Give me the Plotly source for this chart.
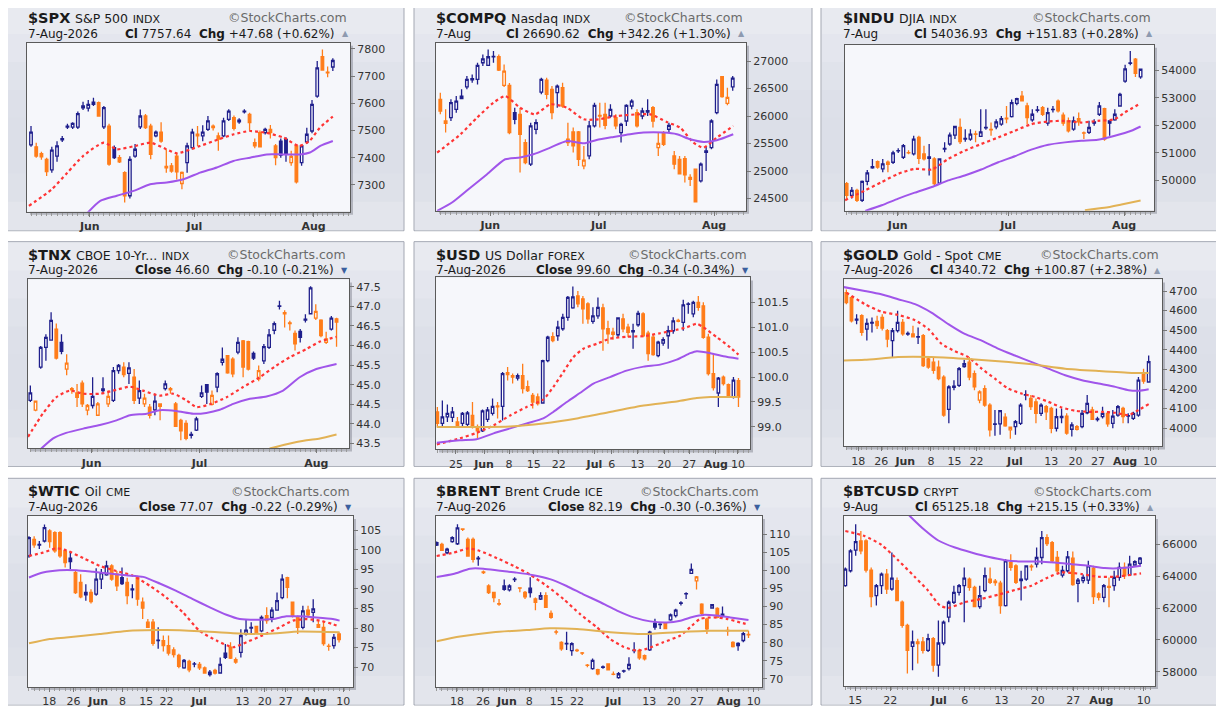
import plotly.graph_objects as go

# the page body adds an 8px margin, so the figure is 16px smaller than the window
W, H = 1208, 700
OFF = 8
NAVY = "#1f1f8c"
ORANGE = "#ff7d1a"
RED_MA = "#ff3434"
PURPLE_MA = "#a055ea"
GOLD_MA = "#e2b255"
PLOT_BG = "#f6f7fb"
FONT = "DejaVu Sans"
# vertical gradient of the panel frame, top to bottom
PANEL_BANDS = ["#e8eaf0", "#e4e6ee", "#e0e3eb", "#dde0e9", "#dcdfe8", "#dcdfe8", "#dee1e9", "#e3e5ec"]

# ---- candles (open, high, low, close) ----
SPX = [
    (7447, 7516, 7440, 7494), (7440, 7455, 7400, 7406), (7415, 7422, 7392, 7403),
    (7394, 7400, 7333, 7349), (7355, 7440, 7345, 7428), (7406, 7460, 7385, 7443),
    (7465, 7480, 7458, 7470), (7512, 7525, 7505, 7516), (7512, 7530, 7505, 7526),
    (7512, 7570, 7505, 7562), (7583, 7605, 7575, 7590), (7582, 7612, 7570, 7596),
    (7596, 7620, 7590, 7604), (7602, 7606, 7550, 7553), (7513, 7590, 7505, 7584),
    (7516, 7525, 7370, 7376), (7437, 7445, 7395, 7400), (7400, 7410, 7380, 7385),
    (7345, 7350, 7235, 7260), (7260, 7405, 7250, 7394), (7406, 7450, 7400, 7431),
    (7513, 7577, 7505, 7553), (7553, 7560, 7505, 7510), (7516, 7525, 7394, 7412),
    (7480, 7500, 7475, 7494), (7494, 7530, 7455, 7461), (7368, 7431, 7345, 7363),
    (7370, 7380, 7345, 7351), (7406, 7419, 7320, 7348), (7305, 7349, 7284, 7346),
    (7382, 7455, 7345, 7443), (7437, 7506, 7430, 7494), (7486, 7516, 7443, 7480),
    (7480, 7519, 7460, 7494), (7504, 7553, 7498, 7535), (7516, 7522, 7500, 7510),
    (7480, 7492, 7425, 7468), (7480, 7547, 7475, 7535), (7541, 7578, 7535, 7571),
    (7547, 7555, 7500, 7508), (7532, 7545, 7525, 7538), (7568, 7578, 7562, 7571),
    (7559, 7565, 7500, 7529), (7455, 7470, 7435, 7443), (7492, 7500, 7438, 7440),
    (7492, 7510, 7485, 7504), (7504, 7520, 7470, 7492), (7443, 7450, 7372, 7400),
    (7461, 7470, 7400, 7409), (7467, 7475, 7385, 7412), (7382, 7425, 7370, 7405),
    (7443, 7450, 7305, 7311), (7382, 7445, 7370, 7443), (7458, 7510, 7450, 7486),
    (7498, 7612, 7490, 7596), (7626, 7755, 7620, 7730), (7771, 7797, 7720, 7722),
    (7714, 7735, 7695, 7712), (7733, 7765, 7718, 7757),
]
COMPQ = [
    (26304, 26425, 26031, 26092), (25910, 26122, 25699, 25867), (25971, 26304, 25910, 26243),
    (26122, 26364, 26062, 26273), (26364, 26486, 26304, 26320), (26530, 26728, 26486, 26667),
    (26660, 26758, 26607, 26680), (26667, 26970, 26576, 26921), (26970, 27121, 26909, 27040),
    (26921, 27212, 26909, 27079), (27079, 27182, 26970, 27085), (27079, 27121, 26818, 26837),
    (26558, 26940, 26530, 26818), (26558, 26600, 25669, 25699), (26062, 26153, 25850, 25941),
    (26031, 26153, 24972, 25669), (25517, 25578, 25124, 25154), (25124, 25880, 25093, 25820),
    (25759, 25941, 25669, 25880), (26437, 26697, 26395, 26667), (26655, 26697, 26304, 26395),
    (26486, 26546, 25941, 26062), (26425, 26576, 26153, 26546), (26516, 26607, 26153, 26183),
    (25578, 25880, 25457, 25517), (25711, 25790, 25335, 25457), (25711, 25730, 25093, 25214),
    (25093, 25457, 25033, 25200), (25275, 25910, 25214, 25820), (25820, 26243, 25790, 26195),
    (26010, 26243, 25790, 26001), (26031, 26243, 25760, 25832), (26001, 26213, 25971, 26122),
    (25971, 26031, 25760, 25820), (25699, 25880, 25517, 25850), (25910, 26213, 25820, 26195),
    (26183, 26304, 26122, 26273), (26062, 26122, 25790, 25820), (26001, 26153, 25941, 26092),
    (26074, 26304, 26001, 26100), (26153, 26183, 25790, 25910), (25426, 25699, 25275, 25505),
    (25699, 25730, 25457, 25487), (25759, 25880, 25699, 25832), (25275, 25366, 25033, 25124),
    (25214, 25275, 24942, 24950), (25226, 25275, 24790, 24930), (24851, 24942, 24730, 24882),
    (25033, 25033, 24428, 24440), (24821, 25154, 24790, 25124), (25340, 25457, 25000, 25366),
    (25426, 25941, 25396, 25910), (26062, 26667, 26031, 26576), (26716, 26728, 26335, 26352),
    (26231, 26516, 26195, 26340), (26530, 26728, 26462, 26690),
]
INDU = [
    (49881, 49941, 49340, 49460), (49460, 49760, 49340, 49640), (49640, 49700, 49220, 49280),
    (49280, 50000, 49220, 49965), (49965, 50380, 49821, 50277), (50460, 50781, 50421, 50500),
    (50685, 50720, 50421, 50481), (50421, 50781, 50301, 50601), (50660, 50720, 50301, 50580),
    (50661, 51082, 50601, 50997), (51070, 51166, 51000, 51082), (50841, 51322, 50781, 51262),
    (51010, 51100, 50950, 50997), (50961, 51622, 50901, 51502), (51562, 51622, 50601, 50800),
    (50961, 51262, 50721, 50781), (50850, 51322, 50181, 50800), (50781, 50841, 49821, 49881),
    (49905, 50800, 49881, 50781), (51140, 51382, 51022, 51166), (51322, 51742, 51262, 51646),
    (51646, 51982, 51502, 51958), (51922, 52247, 51322, 51406), (51500, 51862, 51400, 51526),
    (51502, 51862, 51442, 51682), (51690, 51800, 51382, 51670), (51598, 52583, 51580, 51766),
    (51910, 52583, 51840, 51922), (51850, 52102, 51622, 51838), (51946, 52223, 51862, 52126),
    (52042, 52343, 51982, 52247), (52260, 52703, 52078, 52240), (52319, 52943, 52283, 52823),
    (52799, 53003, 52727, 52967), (53063, 53243, 52883, 52890), (52703, 52823, 52042, 52283),
    (52199, 52583, 52127, 52403), (52545, 52703, 52463, 52559), (52643, 52703, 52343, 52403),
    (52078, 52643, 51982, 52463), (52575, 52703, 52463, 52583), (52883, 52943, 52463, 52523),
    (52367, 52463, 51982, 52078), (52163, 52283, 51742, 51802), (51862, 52319, 51802, 52163),
    (52247, 52463, 51982, 52126), (51730, 51780, 51502, 51718), (51742, 52163, 51682, 51922),
    (52126, 52223, 51982, 52078), (52403, 52847, 52343, 52703), (52607, 52643, 51442, 51502),
    (52163, 52163, 51622, 52078), (52199, 52583, 52163, 52403), (52703, 53183, 52679, 53123),
    (53604, 54204, 53544, 54048), (54250, 54700, 54180, 54264), (54408, 54444, 53760, 53885),
    (53760, 54048, 53688, 54037),
]
TNX = [
    (44.60, 44.98, 44.56, 44.79), (44.35, 44.60, 44.32, 44.58), (45.45, 45.99, 45.41, 45.95),
    (45.95, 46.29, 45.61, 46.21), (46.14, 46.85, 46.12, 46.64), (46.42, 46.56, 45.64, 45.68),
    (46.08, 46.29, 45.78, 45.85), (45.40, 45.78, 45.24, 45.55), (44.90, 44.94, 44.77, 44.87),
    (44.79, 45.02, 44.43, 44.68), (45.04, 45.11, 44.43, 44.51), (44.35, 44.51, 44.22, 44.47),
    (44.47, 45.19, 44.39, 44.70), (44.22, 44.56, 44.20, 44.51), (44.85, 45.19, 44.77, 44.89),
    (44.51, 44.85, 44.43, 44.70), (44.60, 45.45, 44.56, 45.36), (45.36, 45.53, 45.28, 45.49),
    (45.45, 45.57, 45.19, 45.26), (45.29, 45.57, 45.02, 45.43), (45.19, 45.40, 44.51, 44.60),
    (44.66, 45.11, 44.51, 44.85), (44.51, 44.77, 44.43, 44.66), (44.43, 44.51, 44.14, 44.22),
    (44.36, 44.77, 44.22, 44.58), (44.51, 44.51, 44.09, 44.45), (44.90, 45.11, 44.85, 45.02),
    (44.90, 44.94, 44.77, 44.87), (44.51, 44.56, 43.92, 43.94), (44.09, 44.13, 43.58, 43.82),
    (44.01, 44.09, 43.58, 43.63), (43.73, 43.80, 43.63, 43.71), (43.84, 44.18, 43.82, 44.13),
    (44.70, 44.98, 44.66, 44.79), (45.00, 45.02, 44.51, 44.81), (44.50, 44.85, 44.47, 44.73),
    (44.94, 45.32, 44.81, 45.28), (45.57, 45.95, 45.49, 45.65), (45.74, 45.76, 45.28, 45.30),
    (45.65, 45.70, 45.19, 45.28), (45.83, 46.21, 45.78, 46.08), (46.12, 46.14, 45.19, 45.45),
    (46.10, 46.12, 45.36, 45.40), (45.80, 45.85, 45.63, 45.68), (45.15, 45.49, 45.09, 45.36),
    (45.61, 46.04, 45.53, 45.97), (45.95, 46.42, 45.91, 46.27), (46.39, 46.61, 46.29, 46.56),
    (47.00, 47.14, 46.92, 47.01), (46.84, 46.90, 46.46, 46.81), (46.58, 46.63, 46.38, 46.56),
    (46.31, 46.38, 45.87, 46.04), (46.36, 46.42, 46.08, 46.21), (46.65, 46.80, 46.59, 46.67),
    (46.81, 47.51, 46.80, 47.47), (46.70, 47.05, 46.65, 46.87), (46.65, 46.67, 46.21, 46.25),
    (46.08, 46.35, 46.04, 46.17), (46.42, 46.75, 46.38, 46.70), (46.68, 46.71, 45.97, 46.60),
]
USD = [
    (99.30, 99.40, 98.99, 99.07), (99.07, 99.53, 99.00, 99.20), (99.20, 99.45, 99.10, 99.27),
    (99.19, 99.40, 99.10, 99.30), (99.10, 99.20, 98.98, 99.02), (99.07, 99.30, 99.00, 99.27),
    (99.05, 99.32, 98.98, 99.28), (99.23, 99.50, 98.97, 98.99), (99.00, 99.05, 98.75, 98.92),
    (98.92, 99.35, 98.90, 99.32), (99.15, 99.40, 99.10, 99.34), (99.27, 99.57, 99.23, 99.41),
    (99.42, 99.50, 99.17, 99.40), (99.41, 100.10, 99.13, 100.07), (100.09, 100.20, 99.93, 100.05),
    (100.03, 100.07, 99.87, 100.00), (99.98, 100.07, 99.93, 100.03), (100.03, 100.27, 99.67, 99.77),
    (99.81, 99.93, 99.70, 99.73), (99.63, 99.68, 99.37, 99.50), (99.60, 99.67, 99.43, 99.47),
    (99.48, 100.35, 99.47, 100.33), (100.33, 100.83, 100.30, 100.80), (100.81, 100.90, 100.70, 100.73),
    (100.83, 101.13, 100.73, 101.00), (100.97, 101.27, 100.93, 101.20), (101.20, 101.63, 101.13, 101.60),
    (101.39, 101.82, 101.37, 101.61), (101.63, 101.73, 101.40, 101.47), (101.57, 101.63, 101.07, 101.37),
    (101.47, 101.50, 101.07, 101.17), (101.12, 101.40, 101.07, 101.23), (101.23, 101.60, 101.17, 101.40),
    (101.39, 101.47, 100.53, 100.97), (100.97, 101.13, 100.67, 100.87), (100.90, 100.99, 100.75, 100.86),
    (100.85, 101.20, 100.80, 101.19), (101.17, 101.27, 100.90, 100.97), (101.00, 101.07, 100.80, 100.90),
    (100.91, 101.07, 100.57, 100.93), (101.05, 101.33, 101.01, 101.28), (101.27, 101.30, 100.80, 100.83),
    (100.88, 100.93, 100.33, 100.47), (100.80, 100.87, 100.43, 100.45), (100.43, 100.73, 100.40, 100.70),
    (100.68, 100.80, 100.63, 100.75), (100.83, 101.03, 100.57, 100.93), (100.93, 101.20, 100.87, 101.13),
    (101.14, 101.17, 101.10, 101.12), (101.10, 101.55, 100.93, 101.45), (101.46, 101.50, 101.27, 101.47),
    (101.27, 101.53, 101.20, 101.50), (101.50, 101.63, 101.33, 101.40), (101.43, 101.50, 100.77, 100.80),
    (100.80, 100.87, 100.03, 100.07), (100.07, 100.47, 99.73, 99.79), (99.68, 100.00, 99.40, 99.98),
    (100.00, 100.03, 99.83, 99.87), (99.85, 99.87, 99.58, 99.60), (99.60, 100.00, 99.57, 99.94),
    (99.93, 99.98, 99.40, 99.60),
]
GOLD = [
    (4692, 4708, 4633, 4641), (4666, 4675, 4540, 4548), (4552, 4582, 4531, 4557),
    (4574, 4582, 4472, 4489), (4506, 4560, 4447, 4535), (4536, 4565, 4489, 4540),
    (4545, 4574, 4506, 4523), (4565, 4582, 4498, 4511), (4498, 4506, 4413, 4455),
    (4447, 4511, 4363, 4498), (4498, 4599, 4489, 4540), (4540, 4557, 4472, 4481),
    (4480, 4494, 4472, 4484), (4481, 4523, 4464, 4466), (4465, 4514, 4430, 4467),
    (4472, 4481, 4312, 4320), (4354, 4360, 4304, 4312), (4337, 4363, 4278, 4295),
    (4312, 4346, 4245, 4253), (4261, 4270, 4059, 4067), (4096, 4219, 4025, 4211),
    (4208, 4245, 4194, 4215), (4219, 4312, 4211, 4304), (4315, 4350, 4308, 4329),
    (4337, 4363, 4245, 4261), (4278, 4295, 4194, 4211), (4143, 4194, 4127, 4186),
    (4202, 4219, 4110, 4118), (4118, 4127, 3958, 3992), (4020, 4093, 3962, 4022),
    (4022, 4093, 3967, 4090), (4056, 4076, 4008, 4012), (3992, 4008, 3947, 4005),
    (4008, 4042, 3967, 4034), (4025, 4127, 4017, 4118), (4172, 4194, 4143, 4169),
    (4152, 4169, 4093, 4110), (4135, 4152, 4025, 4076), (4076, 4127, 4062, 4118),
    (4110, 4118, 4042, 4084), (4101, 4110, 3975, 4000), (4000, 4101, 3983, 4059),
    (4054, 4101, 4025, 4060), (4062, 4076, 3967, 3975), (3995, 4030, 3958, 4017),
    (3995, 4017, 3988, 4008), (4008, 4093, 4000, 4076), (4079, 4169, 4071, 4127),
    (4093, 4110, 4042, 4045), (4044, 4059, 4034, 4048), (4059, 4110, 4050, 4076),
    (4076, 4084, 4008, 4022), (4025, 4093, 4000, 4062), (4067, 4118, 4059, 4110),
    (4101, 4110, 4025, 4059), (4064, 4076, 4025, 4062), (4050, 4084, 4042, 4076),
    (4067, 4262, 4059, 4245), (4278, 4304, 4227, 4240), (4236, 4371, 4232, 4340),
]
WTIC = [
    (98.46, 103.5, 98.0, 103.13), (102.7, 103.5, 100.58, 101.3), (101.2, 102.3, 100.2, 101.4),
    (102.28, 106.5, 101.86, 105.68), (104.83, 105.25, 100.58, 102.11), (104.4, 104.8, 99.3, 99.73),
    (104.4, 104.8, 98.0, 98.46), (99.73, 99.9, 95.5, 96.76), (97.86, 99.7, 95.1, 97.0),
    (94.2, 94.6, 88.7, 89.1), (91.67, 93.8, 87.6, 88.01), (88.5, 91.2, 86.99, 89.1),
    (89.1, 89.9, 86.3, 86.8), (88.69, 95.3, 88.3, 92.51), (92.5, 95.1, 90.0, 94.2),
    (93.6, 97.2, 93.4, 95.9), (95.9, 96.3, 92.1, 92.5), (93.8, 94.6, 89.5, 90.8),
    (92.9, 95.5, 91.0, 91.4), (91.7, 92.9, 86.1, 88.3), (89.8, 91.2, 87.6, 90.0),
    (93.1, 93.4, 85.7, 87.4), (86.6, 87.8, 82.3, 85.1), (81.5, 82.3, 80.0, 80.2),
    (81.5, 82.3, 75.5, 76.1), (76.9, 80.2, 74.7, 76.8), (76.8, 78.1, 74.0, 75.5),
    (75.5, 78.1, 73.0, 73.6), (74.4, 75.1, 72.5, 73.2), (73.0, 73.4, 69.7, 70.2),
    (69.8, 72.1, 69.6, 71.7), (71.5, 71.9, 68.7, 69.3), (70.8, 71.3, 70.0, 70.85),
    (70.7, 71.3, 69.3, 69.8), (69.8, 70.2, 68.3, 68.5), (68.1, 69.3, 67.6, 68.7),
    (69.2, 69.6, 68.1, 68.5), (68.5, 72.5, 68.3, 70.7), (73.6, 75.9, 72.1, 72.5),
    (75.1, 76.4, 72.1, 72.3), (71.9, 72.5, 70.9, 71.3), (73.8, 79.7, 72.5, 78.1),
    (78.5, 82.1, 78.1, 79.5), (80.0, 81.5, 78.5, 80.2), (80.4, 80.6, 78.5, 78.7),
    (79.3, 83.2, 78.9, 82.7), (83.2, 85.3, 81.1, 81.9), (82.7, 85.3, 81.5, 84.6),
    (84.6, 89.1, 84.4, 87.0), (87.8, 93.8, 87.4, 92.5), (92.9, 93.1, 87.6, 90.4),
    (86.6, 86.8, 82.7, 83.2), (82.7, 83.2, 78.5, 80.2), (80.2, 85.7, 79.7, 84.4),
    (84.6, 85.7, 82.7, 83.4), (84.0, 87.4, 81.5, 84.9), (80.9, 81.8, 80.0, 80.2),
    (80.2, 81.9, 75.5, 76.0), (75.4, 76.0, 74.2, 75.3), (75.5, 78.5, 74.7, 77.6),
    (78.5, 78.9, 76.3, 77.07),
]
BRENT = [
    (107.05, 108.0, 106.8, 107.7), (107.2, 107.7, 105.4, 105.6), (104.9, 106.3, 104.5, 105.9),
    (108.0, 109.5, 107.7, 109.1), (107.4, 112.8, 107.05, 111.8), (111.5, 111.7, 110.9, 111.4),
    (108.6, 109.1, 103.8, 104.0), (108.6, 109.1, 102.2, 103.1), (103.4, 104.0, 101.3, 103.2),
    (99.6, 100.0, 99.0, 99.4), (95.7, 96.2, 93.5, 93.9), (93.9, 93.9, 91.2, 92.5),
    (90.8, 92.1, 90.2, 90.7), (95.7, 97.5, 94.4, 94.8), (94.6, 96.2, 94.2, 95.7),
    (97.5, 98.1, 96.8, 97.6), (95.2, 95.3, 94.0, 95.1), (93.9, 94.3, 92.1, 92.7),
    (95.1, 98.1, 92.5, 93.9), (92.1, 92.5, 89.0, 91.2), (92.1, 94.0, 91.8, 93.0),
    (93.0, 94.0, 89.6, 89.8), (88.1, 88.9, 86.6, 87.0), (83.0, 83.6, 82.3, 82.9),
    (80.1, 80.4, 77.8, 78.3), (79.8, 83.0, 78.0, 79.7), (77.8, 80.1, 76.4, 79.75),
    (77.9, 78.3, 77.4, 77.8), (77.2, 77.4, 76.6, 77.1), (73.8, 74.1, 73.2, 73.7),
    (72.8, 75.6, 72.5, 75.1), (72.5, 72.8, 71.0, 71.4), (73.3, 73.7, 72.8, 73.2),
    (74.1, 74.3, 72.3, 72.5), (71.3, 72.0, 71.0, 71.2), (70.3, 71.9, 70.0, 71.4),
    (72.2, 72.5, 71.7, 72.1), (72.8, 76.0, 72.3, 74.0), (77.9, 80.1, 77.1, 77.8),
    (77.8, 78.3, 75.3, 75.8), (76.4, 76.7, 75.1, 75.5), (78.0, 83.3, 77.7, 82.9),
    (85.4, 86.6, 83.6, 84.3), (85.1, 85.4, 83.8, 85.0), (85.4, 85.6, 83.8, 83.9),
    (86.3, 88.1, 86.1, 87.7), (87.5, 89.4, 87.0, 89.0), (91.0, 91.5, 90.3, 90.9),
    (93.6, 94.0, 92.1, 93.5), (99.2, 101.9, 99.0, 100.3), (97.1, 98.5, 94.7, 98.2),
    (90.7, 90.9, 87.4, 88.1), (86.5, 86.9, 82.4, 83.8), (89.6, 90.7, 89.4, 90.5),
    (89.5, 89.8, 86.8, 87.0), (87.9, 90.0, 87.0, 87.3), (83.4, 84.4, 81.9, 83.3),
    (80.1, 80.4, 78.7, 78.9), (79.8, 80.1, 77.8, 79.2), (80.6, 83.0, 80.1, 82.49),
    (82.3, 83.3, 81.3, 82.19),
]
BTC = [
    (63402, 64545, 63340, 64441), (64338, 65690, 64234, 65584), (65626, 67247, 65273, 66166),
    (66208, 66831, 65377, 65584), (66208, 66316, 64234, 64380), (64380, 64545, 62052, 62717),
    (62779, 63506, 62156, 63402), (63402, 64234, 62883, 64130), (64130, 64441, 62883, 63195),
    (63195, 65481, 63091, 63880), (63714, 63922, 62420, 62467), (62364, 62467, 60763, 60909),
    (60909, 61013, 57896, 59350), (59600, 60597, 58104, 59870), (59870, 60078, 58519, 59766),
    (59870, 60182, 59143, 59350), (59350, 60389, 59246, 60078), (60078, 60182, 57999, 58415),
    (58415, 61221, 57688, 59808), (59808, 61221, 59662, 61117), (61428, 62467, 61117, 62364),
    (62364, 63402, 62260, 62987), (62987, 63506, 62779, 63402), (63402, 64545, 61117, 63880),
    (63818, 63922, 63091, 63299), (63299, 63402, 62052, 62094), (62094, 63402, 61948, 62779),
    (63091, 64545, 62987, 64026), (63818, 64545, 63506, 63610), (63680, 63818, 63402, 63600),
    (63560, 63714, 61636, 62156), (62156, 65065, 62094, 64961), (64857, 65377, 64338, 64545),
    (64649, 64753, 63506, 63610), (63714, 64338, 62467, 63818), (63818, 64649, 63714, 64649),
    (64620, 64753, 64338, 64587), (64753, 65792, 64545, 65169), (65169, 66831, 64753, 66416),
    (66416, 66623, 65896, 66042), (66104, 66208, 64857, 64961), (65169, 65584, 64234, 64338),
    (64068, 64649, 63922, 64360), (64338, 65584, 64234, 65210), (65127, 65540, 63402, 63464),
    (63548, 63880, 62364, 63756), (63714, 64100, 63550, 63922), (63756, 64961, 63506, 64649),
    (64504, 64649, 62260, 62717), (62883, 62987, 62467, 62675), (62675, 63506, 62364, 63402),
    (63350, 63922, 62052, 63300), (63402, 64338, 63091, 63922), (63922, 64857, 63714, 64545),
    (64545, 64857, 63818, 64026), (64088, 65273, 64026, 64753), (64700, 65002, 64649, 64910),
    (64800, 65200, 64649, 65125),
]

# ---- moving averages, (candle index, value) ----
SPX_MA20 = [(-0.4, 7223), (4, 7284), (7, 7345), (10, 7406), (14, 7455), (16.5, 7431), (20, 7443),
            (23, 7455), (26, 7431), (28, 7416), (32.5, 7443), (36, 7467), (39, 7486), (42, 7498),
            (45, 7492), (48.5, 7474), (51.5, 7443), (53.5, 7461), (55.5, 7510), (58, 7551)]
SPX_MA50 = [(10.5, 7190), (13.3, 7241), (16.5, 7260), (19.7, 7278), (22.9, 7302), (26.1, 7309),
            (29.3, 7321), (32.5, 7345), (35.7, 7364), (38.9, 7388), (42.1, 7400), (45.3, 7412),
            (48.5, 7412), (51.7, 7412), (53.6, 7419), (55.6, 7443), (58, 7461)]
COMPQ_MA20 = [(-0.6, 25335), (3.8, 25669), (6.9, 25971), (10, 26243), (12.2, 26364), (15, 26153),
              (17.8, 26031), (20.7, 26213), (23.8, 26153), (27, 25941), (29.8, 25941), (33.2, 26001),
              (37, 26031), (39.5, 26031), (42.6, 25892), (45.1, 25790), (47.6, 25517), (49.5, 25426),
              (52, 25608), (55.1, 25820)]
COMPQ_MA50 = [(-0.6, 24276), (2.2, 24428), (5.3, 24670), (8.8, 24942), (12.2, 25214), (15, 25245),
              (17.5, 25305), (20.7, 25426), (23.8, 25548), (27, 25505), (29.4, 25566), (32.6, 25620),
              (35.7, 25669), (38.2, 25699), (42, 25699), (44.5, 25669), (47, 25578), (49.5, 25530),
              (52, 25560), (55.1, 25669)]
INDU_MA20 = [(-0.3, 49280), (3.6, 49640), (6.8, 49941), (10, 50241), (13.2, 50421), (16.5, 50397),
             (19.7, 50781), (22.9, 51082), (26.1, 51322), (29.4, 51562), (32.6, 51802), (35.8, 52042),
             (39, 52139), (42.3, 52163), (45.5, 52102), (48.7, 52163), (52, 52223), (53.9, 52463),
             (57, 52799)]
INDU_MA50 = [(3.6, 48896), (6.8, 49100), (10, 49340), (13.2, 49556), (16.5, 49760), (19.7, 50000),
             (22.9, 50181), (26.1, 50397), (29.4, 50661), (32.6, 50877), (35.8, 51118), (39.1, 51298),
             (42.3, 51382), (45.5, 51442), (48.7, 51478), (52, 51622), (55.2, 51802), (57, 51958)]
INDU_MA200 = [(46.2, 48920), (50, 49004), (53.3, 49124), (57, 49268)]
TNX_MA20 = [(-0.45, 43.67), (2.4, 44.26), (5, 44.68), (7.6, 44.85), (10.2, 44.77), (13.4, 44.77),
            (16.6, 44.87), (19.2, 44.95), (21.7, 44.85), (24.9, 44.72), (27.5, 44.77), (30.1, 44.60),
            (32, 44.43), (34.6, 44.50), (37.8, 44.68), (41, 44.94), (44.2, 45.19), (47.4, 45.49),
            (50, 45.70), (53.2, 45.91), (55.8, 46.10), (59, 46.22)]
TNX_MA50 = [(2.1, 43.37), (4.4, 43.63), (6.9, 43.77), (10.2, 43.88), (13.4, 43.97), (16.6, 44.09),
            (19.2, 44.22), (22.4, 44.26), (24.9, 44.35), (28.1, 44.33), (31.4, 44.26), (33.9, 44.28),
            (36.5, 44.36), (39.1, 44.51), (42.3, 44.64), (45.5, 44.70), (48.7, 44.85), (51.9, 45.19),
            (55.1, 45.40), (59, 45.53)]
TNX_MA200 = [(46.1, 43.37), (49.4, 43.48), (53.2, 43.58), (55.8, 43.63), (59, 43.73)]
USD_MA20 = [(-0.1, 98.65), (4.5, 98.77), (7.8, 98.88), (11.2, 99.03), (14.5, 99.23), (17.8, 99.40),
            (21.1, 99.55), (23.1, 99.80), (25.1, 100.10), (27.1, 100.40), (29.1, 100.57), (31.8, 100.67),
            (34.4, 100.77), (37.7, 100.81), (41, 100.82), (44.4, 100.88), (47.7, 100.95), (49.7, 101.00),
            (51.7, 101.07), (53, 101.00), (55.7, 100.80), (58.3, 100.60), (60, 100.45)]
USD_MA50 = [(-0.1, 98.68), (4.5, 98.73), (7.8, 98.75), (11.2, 98.87), (14.5, 98.97), (17.8, 99.07),
            (21.1, 99.17), (23.1, 99.30), (25.8, 99.50), (28.4, 99.68), (31.1, 99.87), (34.4, 100.00),
            (37.7, 100.13), (41.1, 100.21), (44.4, 100.25), (47.7, 100.35), (50.4, 100.48), (51.7, 100.52),
            (54.4, 100.48), (57, 100.42), (60, 100.37)]
USD_MA200 = [(-0.1, 99.00), (7.8, 99.00), (14.5, 99.01), (21.1, 99.07), (27.8, 99.17), (34.4, 99.30),
             (41.1, 99.43), (47.7, 99.51), (51.7, 99.58), (54.4, 99.60), (60, 99.60)]
GOLD_MA20 = [(0, 4692), (3.6, 4633), (6.8, 4595), (10.1, 4578), (13.4, 4551), (16, 4506), (18.6, 4430),
             (21.2, 4393), (23.8, 4363), (26.4, 4304), (29, 4253), (31.6, 4202), (34.2, 4177), (36.8, 4160),
             (39.4, 4135), (42, 4106), (44.7, 4089), (47.3, 4084), (49.9, 4084), (52.5, 4079), (55.1, 4067),
             (57, 4093), (59, 4123)]
GOLD_MA50 = [(-0.5, 4720), (3.6, 4700), (6.8, 4683), (10.1, 4658), (13.4, 4633), (16.6, 4590),
             (19.9, 4531), (23.1, 4481), (26.4, 4447), (29.7, 4405), (32.9, 4371), (36.2, 4337),
             (39.4, 4304), (42.7, 4270), (46, 4245), (49.2, 4228), (52.5, 4211), (55.1, 4194),
             (57, 4191), (59, 4199)]
GOLD_MA200 = [(-0.5, 4346), (3.6, 4349), (10.1, 4363), (16.6, 4363), (23.1, 4354), (29.7, 4342),
              (36.2, 4326), (42.7, 4304), (49.2, 4292), (55.7, 4282), (59, 4282)]
WTIC_MA20 = [(0, 98.46), (2.7, 99.3), (5.3, 100.4), (7.2, 99.9), (10.5, 97.9), (13.7, 95.9),
             (16.9, 94.6), (20.1, 93.4), (23.4, 90.8), (26.6, 87.8), (29.8, 84.0), (33, 79.3),
             (36.3, 76.8), (39.5, 75.1), (42.1, 76.4), (45.3, 78.2), (48.5, 80.2), (51.1, 81.9),
             (53.7, 82.3), (56.3, 81.9), (58.8, 81.0), (60.1, 80.4)]
WTIC_MA50 = [(0, 92.94), (2.7, 94.2), (5.9, 94.8), (9.2, 94.8), (12.4, 94.4), (15.6, 93.96),
             (18.8, 93.5), (22.1, 93.1), (25.3, 91.4), (28.5, 89.5), (31.7, 87.4), (35, 85.3),
             (38.2, 83.4), (40.8, 82.3), (44, 82.1), (47.2, 82.3), (49.8, 83.0), (52.4, 83.0),
             (55.6, 82.7), (58.8, 82.3), (60.1, 81.9)]
WTIC_MA200 = [(0, 76.1), (4, 77.2), (7.2, 77.6), (13.7, 78.5), (20.1, 79.35), (26.6, 79.5),
              (33, 79.2), (39.5, 78.7), (45.9, 78.5), (52.4, 79.1), (60.1, 78.9)]
BRENT_MA20 = [(0, 104.0), (3.2, 104.9), (6.1, 106.1), (8.3, 105.4), (11.6, 103.4), (14.8, 101.3),
              (18, 98.8), (21.2, 95.7), (24.4, 92.1), (27.6, 87.9), (30.8, 84.3), (33.4, 81.0),
              (35.9, 78.9), (38.5, 77.8), (40.4, 78.3), (43.6, 80.1), (46.9, 82.0), (49.1, 84.7),
              (50.7, 86.6), (53.3, 87.0), (55.8, 86.6), (58.4, 85.6), (60, 85.0)]
BRENT_MA50 = [(0, 98.2), (3.2, 99.0), (6.4, 100.5), (9, 100.5), (12.2, 99.9), (15.4, 99.4),
              (18.6, 98.7), (21.8, 97.6), (25, 95.7), (28.2, 93.4), (31.5, 91.2), (34.7, 88.9),
              (37.9, 87.0), (41.1, 85.9), (44.3, 85.6), (46.9, 86.1), (49.4, 87.2), (51.3, 87.7),
              (53.9, 87.5), (56.5, 87.0), (60, 86.3)]
BRENT_MA200 = [(0, 80.4), (4.5, 81.7), (10.9, 82.9), (17.3, 83.5), (21.8, 84.0), (27, 83.8),
               (33.4, 82.9), (39.8, 82.4), (46.2, 82.9), (52.6, 83.3), (60, 83.3)]
BTC_MA20 = [(0, 66831), (3.7, 66520), (7, 65958), (10.2, 65002), (13.4, 63963), (16, 63091),
            (18.3, 62156), (19.9, 62010), (23.1, 62364), (26.3, 62571), (29.6, 62841), (32.8, 63132),
            (36, 63402), (39.2, 63922), (41.8, 64234), (45.7, 64130), (48.9, 63963), (52.2, 63963),
            (55.4, 64088), (57.2, 64171)]
BTC_MA50 = [(11.5, 68100), (12.8, 67662), (15.4, 66873), (17.9, 66250), (21.2, 65792), (24.4, 65481),
            (27.6, 65210), (30.9, 65002), (34.1, 64919), (37.3, 64919), (40.5, 64857), (43.8, 64753),
            (47, 64649), (50.2, 64504), (53.5, 64504), (57.2, 64649)]

# ---- axis ticks ----
MONTHS3_LABELS = ["Jun", "Jul", "Aug"]
SPX_XTICKS = [11.3, 31.4, 54.3]
COMPQ_XTICKS = [9.4, 29.8, 51.5]
INDU_XTICKS = [9.9, 31.3, 53.8]
TNX_XTICKS = [11.8, 32.6, 55.1]
WEEK_LABELS = ["25", "Jun", "8", "15", "22", "Jul", "6", "13", "20", "27", "Aug", "10"]
USD_XTICKS = [3.7, 9.3, 14.3, 19.2, 24.2, 31.3, 34.75, 39.9, 45.2, 50.2, 55.5, 59.9]
WEEK2_LABELS = ["18", "26", "Jun", "8", "15", "22", "Jul", "13", "20", "27", "Aug", "10"]
GOLD_XTICKS = [2.3, 6.8, 11.5, 16.5, 21.1, 25.4, 32.9, 40.0, 44.7, 49.1, 54.4, 59.3]
WTIC_XTICKS = [3.9, 8.6, 13.4, 18.1, 22.7, 26.6, 32.9, 41.3, 45.6, 49.7, 55.3, 60.8]
BRENT_XTICKS = [3.9, 8.9, 13.5, 17.8, 23.1, 27.0, 34.0, 40.9, 45.6, 50.1, 56.2, 61.0]
BTC_LABELS = ["15", "22", "Jul", "6", "13", "20", "27", "Aug", "10"]
BTC_XTICKS = [1.9, 8.7, 18.1, 23.1, 30.2, 37.2, 44.1, 49.5, 57.7]

SPX_YTICKS = [7300, 7400, 7500, 7600, 7700, 7800]
COMPQ_YTICKS = [24500, 25000, 25500, 26000, 26500, 27000]
INDU_YTICKS = [50000, 51000, 52000, 53000, 54000]
TNX_YTICKS = [43.5, 44.0, 44.5, 45.0, 45.5, 46.0, 46.5, 47.0, 47.5]
USD_YTICKS = [99.0, 99.5, 100.0, 100.5, 101.0, 101.5]
GOLD_YTICKS = [4000, 4100, 4200, 4300, 4400, 4500, 4600, 4700]
WTIC_YTICKS = [70, 75, 80, 85, 90, 95, 100, 105]
BRENT_YTICKS = [70, 75, 80, 85, 90, 95, 100, 105, 110]
BTC_YTICKS = [58000, 60000, 62000, 64000, 66000]

# ---- header texts ----
TICKERS = ["$SPX", "$COMPQ", "$INDU", "$TNX", "$USD", "$GOLD", "$WTIC", "$BRENT", "$BTCUSD"]
NAMES = ["S&amp;P 500", "Nasdaq", "DJIA", "CBOE 10-Yr...", "US Dollar", "Gold - Spot", "Oil",
         "Brent Crude", ""]
EXCHANGES = ["INDX", "INDX", "INDX", "INDX", "FOREX", "CME", "CME", "ICE", "CRYPT"]
DATES = ["7-Aug-2026", "7-Aug", "7-Aug", "7-Aug-2026", "7-Aug-2026", "7-Aug-2026", "7-Aug-2026",
         "7-Aug-2026", "9-Aug"]
STATS = [
    "<b>Cl</b> 7757.64  <b>Chg</b> +47.68 (+0.62%)",
    "<b>Cl</b> 26690.62  <b>Chg</b> +342.26 (+1.30%)",
    "<b>Cl</b> 54036.93  <b>Chg</b> +151.83 (+0.28%)",
    "<b>Close</b> 46.60  <b>Chg</b> -0.10 (-0.21%)",
    "<b>Close</b> 99.60  <b>Chg</b> -0.34 (-0.34%)",
    "<b>Cl</b> 4340.72  <b>Chg</b> +100.87 (+2.38%)",
    "<b>Close</b> 77.07  <b>Chg</b> -0.22 (-0.29%)",
    "<b>Close</b> 82.19  <b>Chg</b> -0.30 (-0.36%)",
    "<b>Cl</b> 65125.18  <b>Chg</b> +215.15 (+0.33%)",
]
UP_DAY = [True, True, True, False, False, True, False, False, True]

# ---- layout, in screen pixels of the reference ----
COLS = [(6, 404), (414, 812), (821, 1219)]
ROWS = [(5, 232), (243, 469), (481, 709)]
PLOT_BOXES = [
    (27, 350, 43, 213), (436, 746, 43, 212), (845, 1154, 45, 212),
    (28, 349, 281, 451), (436, 750, 279, 452), (844, 1162, 281, 449),
    (28, 353, 519, 691), (436, 762, 519, 691), (844, 1155, 519, 690),
]

PANELS = [
    dict(c=SPX, ma=[SPX_MA20, SPX_MA50, None], xt=SPX_XTICKS, xl=MONTHS3_LABELS,
         xr=[-0.77, 61.3], yt=SPX_YTICKS, yr=[7201, 7822], fmt="d"),
    dict(c=COMPQ, ma=[COMPQ_MA20, COMPQ_MA50, None], xt=COMPQ_XTICKS, xl=MONTHS3_LABELS,
         xr=[-0.81, 57.5], yt=COMPQ_YTICKS, yr=[24276, 27333], fmt="d"),
    dict(c=INDU, ma=[INDU_MA20, INDU_MA50, INDU_MA200], xt=INDU_XTICKS, xl=MONTHS3_LABELS,
         xr=[-0.32, 59.6], yt=INDU_YTICKS, yr=[48896, 54925], fmt="d"),
    dict(c=TNX, ma=[TNX_MA20, TNX_MA50, TNX_MA200], xt=TNX_XTICKS, xl=MONTHS3_LABELS,
         xr=[-0.45, 61.4], yt=TNX_YTICKS, yr=[43.373, 47.686], fmt=".1f"),
    dict(c=USD, ma=[USD_MA20, USD_MA50, USD_MA200], xt=USD_XTICKS, xl=WEEK_LABELS,
         xr=[-0.27, 62.3], yt=USD_YTICKS, yr=[98.547, 102.0], fmt=".1f"),
    dict(c=GOLD, ma=[GOLD_MA20, GOLD_MA50, GOLD_MA200], xt=GOLD_XTICKS, xl=WEEK2_LABELS,
         xr=[-0.46, 61.6], yt=GOLD_YTICKS, yr=[3907, 4759], fmt="d"),
    dict(c=WTIC, ma=[WTIC_MA20, WTIC_MA50, WTIC_MA200], xt=WTIC_XTICKS, xl=WEEK2_LABELS,
         xr=[-0.19, 62.7], yt=WTIC_YTICKS, yr=[64.9, 108.65], fmt="d"),
    dict(c=BRENT, ma=[BRENT_MA20, BRENT_MA50, BRENT_MA200], xt=BRENT_XTICKS, xl=WEEK2_LABELS,
         xr=[-0.13, 62.6], yt=BRENT_YTICKS, yr=[67.7, 115.06], fmt="d"),
    dict(c=BTC, ma=[BTC_MA20, BTC_MA50, None], xt=BTC_XTICKS, xl=BTC_LABELS,
         xr=[-0.26, 59.9], yt=BTC_YTICKS, yr=[57106, 67766], fmt="d"),
]
MONTH_NAMES = {"Jun", "Jul", "Aug"}


def px_x(v):
    return (v - OFF) / W


def px_y(v):
    return 1 - (v - OFF) / H


def split_candles(candles):
    # StockCharts colouring: blue if close >= previous close, orange otherwise
    blue, orange = [], []
    prev = None
    for i, (o, h, l, c) in enumerate(candles):
        up = c >= prev if prev is not None else c >= o
        (blue if up else orange).append((i, o, h, l, c))
        prev = c
    return blue, orange


def candle_trace(rows, color, xa, ya):
    return go.Candlestick(
        x=[r[0] for r in rows], open=[r[1] for r in rows], high=[r[2] for r in rows],
        low=[r[3] for r in rows], close=[r[4] for r in rows],
        increasing=dict(line=dict(color=color, width=1.3), fillcolor="#ffffff"),
        decreasing=dict(line=dict(color=color, width=1.3), fillcolor=color),
        whiskerwidth=0, xaxis=xa, yaxis=ya, showlegend=False, hoverinfo="skip",
    )


def ma_trace(points, color, dash, xa, ya):
    return go.Scatter(
        x=[p[0] for p in points], y=[p[1] for p in points], mode="lines",
        line=dict(color=color, width=2.2 if dash else 2, dash=dash, shape="spline", smoothing=0.6),
        xaxis=xa, yaxis=ya, showlegend=False, hoverinfo="skip",
    )


def rect(x0, x1, y0, y1, fill, line=None):
    return dict(type="rect", xref="paper", yref="paper", layer="below",
                x0=px_x(x0), x1=px_x(x1), y0=px_y(y1), y1=px_y(y0),
                fillcolor=fill, line=line or dict(width=0))


fig = go.Figure()
shapes, annotations = [], []
layout_axes = {}

for k, p in enumerate(PANELS):
    n = k + 1
    xa, ya = f"x{n}", f"y{n}"
    col, row = COLS[k % 3], ROWS[k // 3]
    x0, x1, y0, y1 = PLOT_BOXES[k]

    # moving averages first (under the candles), then candles
    for pts, color, dash in zip(p["ma"], [RED_MA, PURPLE_MA, GOLD_MA], ["dot", None, None]):
        if pts:
            fig.add_trace(ma_trace(pts, color, dash, xa, ya))
    blue, orange = split_candles(p["c"])
    fig.add_trace(candle_trace(blue, NAVY, xa, ya))
    fig.add_trace(candle_trace(orange, ORANGE, xa, ya))

    layout_axes[f"xaxis{n}"] = dict(
        domain=[px_x(x0), px_x(x1)], range=p["xr"], anchor=ya,
        tickmode="array", tickvals=p["xt"],
        ticktext=[f"<b>{t}</b>" if t in MONTH_NAMES else t for t in p["xl"]],
        ticks="outside", ticklen=4, tickcolor="#777",
        minor=dict(tickmode="linear", tick0=0, dtick=1, ticks="outside", ticklen=3, tickcolor="#999"),
        showgrid=False, zeroline=False, showline=True, mirror=True, linecolor="#5a5a5a",
        tickfont=dict(family=FONT, size=11, color="#333"),
        rangeslider=dict(visible=False), fixedrange=True,
    )
    layout_axes[f"yaxis{n}"] = dict(
        domain=[px_y(y1), px_y(y0)], range=p["yr"], anchor=xa, side="right",
        tickmode="array", tickvals=p["yt"], tickformat=p["fmt"],
        ticks="outside", ticklen=4, tickcolor="#777",
        showgrid=False, zeroline=False, showline=True, mirror=True, linecolor="#5a5a5a",
        tickfont=dict(family=FONT, size=11, color="#333"), fixedrange=True,
    )

    # panel frame with a stepped vertical gradient, plot-area shadow and plot background
    shapes.append(rect(col[0], col[1], row[0], row[1], PANEL_BANDS[0], dict(color="#a3a7b2", width=1)))
    band_h = (row[1] - row[0] - 2) / len(PANEL_BANDS)
    for b, color in enumerate(PANEL_BANDS):
        shapes.append(rect(col[0] + 1, col[1] - 1, row[0] + 1 + b * band_h,
                           row[0] + 1 + (b + 1) * band_h + 0.5, color))
    shapes.append(rect(x0 + 3, x1 + 3, y0 + 3, y1 + 3, "rgba(120,122,135,0.45)"))
    shapes.append(rect(x0, x1, y0, y1, PLOT_BG))

    # header lines
    name = f" <span style='font-size:12.5px'>{NAMES[k]}</span>" if NAMES[k] else ""
    annotations.append(dict(
        xref="paper", yref="paper", x=px_x(col[0] + 20), y=px_y(row[0] + 13),
        xanchor="left", yanchor="middle", showarrow=False,
        text=f"<b>{TICKERS[k]}</b>{name} <span style='font-size:11px'>{EXCHANGES[k]}</span>",
        font=dict(family=FONT, size=14.5, color="#1a1a1a"),
    ))
    annotations.append(dict(
        xref="paper", yref="paper", x=px_x(x1 - 1), y=px_y(row[0] + 13),
        xanchor="right", yanchor="middle", showarrow=False, text="©StockCharts.com",
        font=dict(family=FONT, size=12.5, color="#6a6a6a"),
    ))
    annotations.append(dict(
        xref="paper", yref="paper", x=px_x(col[0] + 20), y=px_y(row[0] + 29),
        xanchor="left", yanchor="middle", showarrow=False, text=DATES[k],
        font=dict(family=FONT, size=12, color="#1a1a1a"),
    ))
    annotations.append(dict(
        xref="paper", yref="paper", x=px_x(x1 - 13), y=px_y(row[0] + 29),
        xanchor="right", yanchor="middle", showarrow=False, text=STATS[k],
        font=dict(family=FONT, size=12, color="#1a1a1a"),
    ))
    annotations.append(dict(
        xref="paper", yref="paper", x=px_x(x1 - 5), y=px_y(row[0] + 29),
        xanchor="center", yanchor="middle", showarrow=False,
        text="▲" if UP_DAY[k] else "▼",
        font=dict(family=FONT, size=8, color="#8e9ab0" if UP_DAY[k] else "#3b5f9e"),
    ))

fig.update_layout(
    width=W, height=H, autosize=False,
    margin=dict(l=0, r=0, t=0, b=0),
    paper_bgcolor="#ffffff", plot_bgcolor="rgba(0,0,0,0)",
    showlegend=False, hovermode=False,
    shapes=shapes, annotations=annotations,
    **layout_axes,
)

fig.write_html("out.html")
